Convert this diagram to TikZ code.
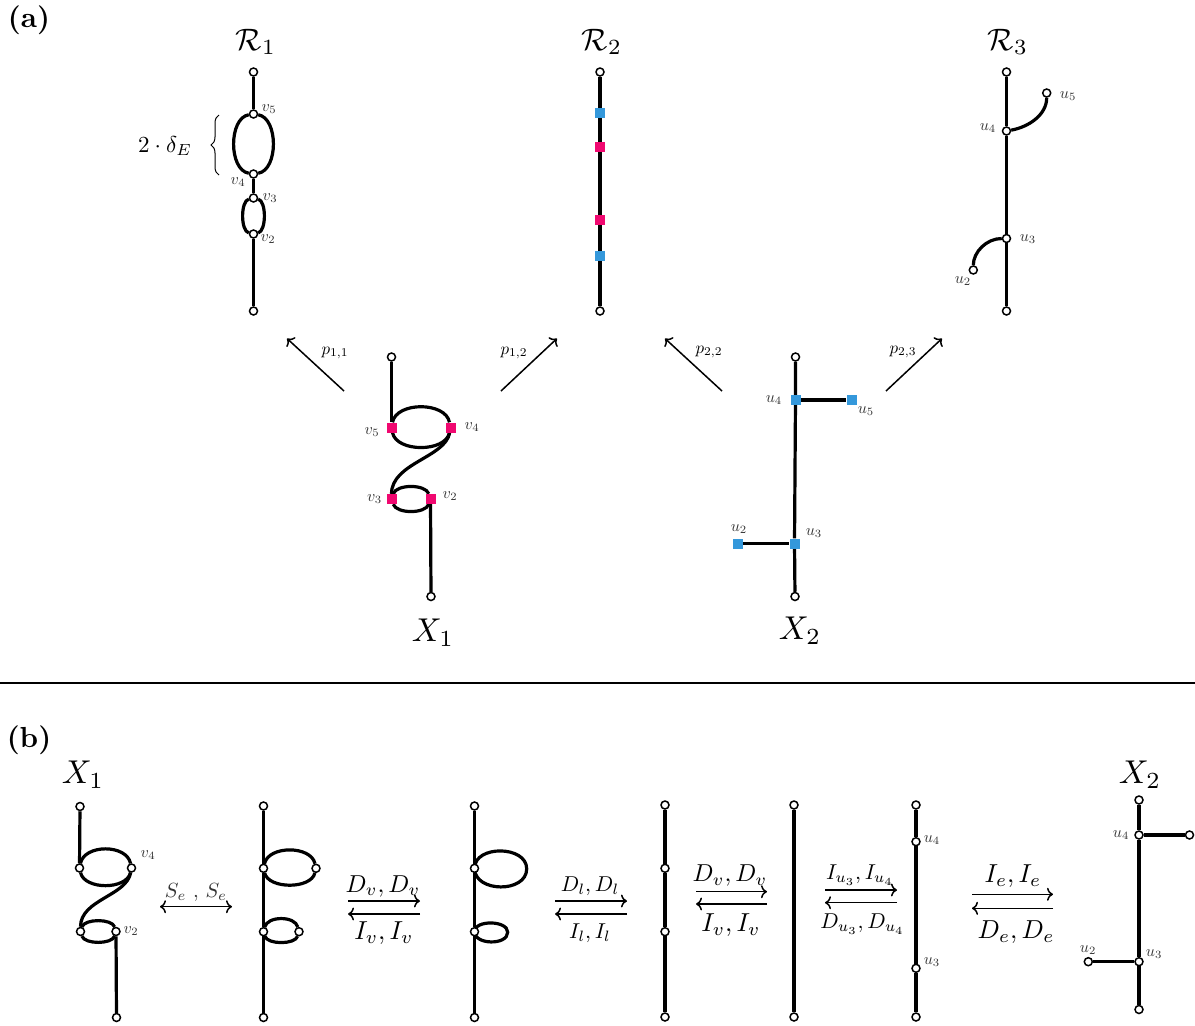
\documentclass[tikz,border=0pt]{standalone}
\usepackage{amsmath}
\usetikzlibrary{arrows.meta,decorations.pathreplacing}
\definecolor{mpink}{RGB}{240,8,112}
\definecolor{mblue}{RGB}{52,152,219}
\pgfdeclarelayer{bg}
\pgfsetlayers{bg,main}
\begin{document}
\begin{tikzpicture}[x=1pt,y=-1pt,
  edge/.style={line width=3.2pt},
  dot/.style={circle,draw,fill=white,line width=1.5pt,inner sep=0pt,minimum size=8pt},
  psq/.style={rectangle,fill=mpink,inner sep=0pt,minimum size=10pt},
  bsq/.style={rectangle,fill=mblue,inner sep=0pt,minimum size=10pt},
  lbl/.style={scale=1.6,text=black!80,inner sep=0pt},
  plbl/.style={scale=1.7,inner sep=0pt},
  big/.style={scale=3.3,inner sep=0pt},
  rlbl/.style={scale=3.1,inner sep=0pt},
  panel/.style={font=\bfseries,scale=2.9,inner sep=0pt},
  biglab/.style={scale=2.6,inner sep=0pt},
  dlab/.style={scale=2.45,inner sep=0pt},
  midlab/.style={scale=2.15,inner sep=0pt},
  arr/.style={line width=1.5pt,-{To[length=6pt,width=13pt]}},
  darr/.style={line width=1.5pt,{To[length=6pt,width=13pt]}-{To[length=6pt,width=13pt]}}]
\useasboundingbox (0,0) rectangle (1195,1026);

% ---------------- panel (a) ----------------
\node[panel] (pa) at (29,20) {(a)};

% R1
\node[rlbl] (tR1) at (256,42) {$\mathcal{R}_1$};
\node[dot] (r1t) at (253.5,72) {};
\node[dot] (r1v5) at (253.5,114) {};
\node[dot] (r1v4) at (253.5,174) {};
\node[dot] (r1v3) at (253.5,198) {};
\node[dot] (r1v2) at (253.5,234) {};
\node[dot] (r1b) at (253.5,311) {};
\node[lbl] at (269,109) {$v_5$};
\node[lbl] at (238,182) {$v_4$};
\node[lbl] at (270,198) {$v_3$};
\node[lbl] at (268,239) {$v_2$};
\begin{pgfonlayer}{bg}
\draw[edge] (r1t) -- (r1v5);
\draw[edge] (r1v5) .. controls +(-25,4) and +(-25,-4) .. (r1v4);
\draw[edge] (r1v5) .. controls +(25,4) and +(25,-4) .. (r1v4);
\draw[edge] (r1v4) -- (r1v3);
\draw[edge] (r1v3) .. controls +(-13,3) and +(-13,-3) .. (r1v2);
\draw[edge] (r1v3) .. controls +(13,3) and +(13,-3) .. (r1v2);
\draw[edge] (r1v2) -- (r1b);
\end{pgfonlayer}
\coordinate (brA) at (219,175);
\coordinate (brB) at (219,115);
\draw[line width=1pt,decorate,decoration={brace,amplitude=8pt}] (brA) -- (brB);
\node[scale=2.3,inner sep=0pt] (dE) at (165,146) {$2\cdot\delta_E$};

% R2
\node[rlbl] (tR2) at (602,42) {$\mathcal{R}_2$};
\node[dot] (r2t) at (600,72) {};
\node[bsq] (r2a) at (600,113) {};
\node[psq] (r2b) at (600,147) {};
\node[psq] (r2c) at (600,220) {};
\node[bsq] (r2d) at (600,256) {};
\node[dot] (r2e) at (600,311) {};
\begin{pgfonlayer}{bg}
\draw[edge] (r2t) -- (r2a) -- (r2b) -- (r2c) -- (r2d) -- (r2e);
\end{pgfonlayer}

% R3
\node[rlbl] (tR3) at (1008,42) {$\mathcal{R}_3$};
\node[dot] (r3t) at (1006.5,72) {};
\node[dot] (r3u4) at (1006.5,131) {};
\node[dot] (r3u5) at (1046.7,93) {};
\node[dot] (r3u3) at (1006.5,238.5) {};
\node[dot] (r3u2) at (973.3,270) {};
\node[dot] (r3b) at (1006.5,311) {};
\node[lbl] at (988,128) {$u_4$};
\node[lbl] at (1068,96) {$u_5$};
\node[lbl] at (1028,239) {$u_3$};
\node[lbl] at (963,281) {$u_2$};
\begin{pgfonlayer}{bg}
\draw[edge] (r3t) -- (r3u4) -- (r3u3) -- (r3b);
\draw[edge] (r3u4) .. controls +(22,-4) and +(0,22) .. (r3u5);
\draw[edge] (r3u3) .. controls +(-20,0) and +(0,-18) .. (r3u2);
\end{pgfonlayer}

% projection arrows
\coordinate (p11s) at (344,391); \coordinate (p11e) at (287,338.5);
\coordinate (p12s) at (501,391); \coordinate (p12e) at (557,338.5);
\coordinate (p22s) at (722,391); \coordinate (p22e) at (665,338.5);
\coordinate (p23s) at (886,391); \coordinate (p23e) at (942,338.5);
\draw[arr] (p11s) -- (p11e);
\draw[arr] (p12s) -- (p12e);
\draw[arr] (p22s) -- (p22e);
\draw[arr] (p23s) -- (p23e);
\node[plbl] at (335,353) {$p_{1,1}$};
\node[plbl] at (514,353) {$p_{1,2}$};
\node[plbl] at (709,352) {$p_{2,2}$};
\node[plbl] at (903,352) {$p_{2,3}$};

% X1 (top)
\node[dot] (x1t) at (391.5,357) {};
\node[psq] (x1v5) at (391.5,427.5) {};
\node[psq] (x1v4) at (450.5,427.5) {};
\node[psq] (x1v3) at (391.5,499) {};
\node[psq] (x1v2) at (430.5,499) {};
\node[dot] (x1b) at (431,596.5) {};
\node[lbl] at (372,432) {$v_5$};
\node[lbl] at (472,427) {$v_4$};
\node[lbl] at (374.5,499) {$v_3$};
\node[lbl] at (450,496) {$v_2$};
\node[big] (tX1) at (433,633) {$X_1$};
\begin{pgfonlayer}{bg}
\draw[edge] (x1t) -- (x1v5);
\draw[edge] (x1v5) .. controls +(5,-26) and +(-5,-26) .. (x1v4);
\draw[edge] (x1v5) .. controls +(5,25) and +(-5,25) .. (x1v4);
\draw[edge] (x1v4) .. controls +(-5,30) and +(0,-36) .. (x1v3);
\draw[edge] (x1v3) .. controls +(5,-15) and +(-5,-15) .. (x1v2);
\draw[edge] (x1v3) .. controls +(5,15) and +(-5,15) .. (x1v2);
\draw[edge] (x1v2) -- (x1b);
\end{pgfonlayer}

% X2 (top)
\node[dot] (x2t) at (795.5,357) {};
\node[bsq] (x2u4) at (795.5,400) {};
\node[bsq] (x2u5) at (851.5,400) {};
\node[bsq] (x2u3) at (794.5,543.5) {};
\node[bsq] (x2u2) at (738,543.5) {};
\node[dot] (x2b) at (795,596.5) {};
\node[lbl] at (774,400) {$u_4$};
\node[lbl] at (866,411) {$u_5$};
\node[lbl] at (739,529) {$u_2$};
\node[lbl] at (814,533) {$u_3$};
\node[big] (tX2) at (800,631) {$X_2$};
\begin{pgfonlayer}{bg}
\draw[edge] (x2t) -- (x2u4) -- (x2u3) -- (x2b);
\draw[edge] (x2u4) -- (x2u5);
\draw[edge] (x2u2) -- (x2u3);
\end{pgfonlayer}

% separator
\coordinate (sepL) at (0,683);
\coordinate (sepR) at (1195,683);
\draw[line width=1.1pt] (sepL) -- (sepR);

% ---------------- panel (b) ----------------
\node[panel] (pb) at (29,740) {(b)};

% graph 1 (X1)
\node[big] (bX1) at (83,775) {$X_1$};
\node[dot] (b1t) at (80,806.5) {};
\node[dot] (b1a) at (79.5,868) {};
\node[dot] (b1v4) at (131.5,868) {};
\node[dot] (b1c) at (80.5,931.5) {};
\node[dot] (b1v2) at (116,931.5) {};
\node[dot] (b1b) at (116.5,1017.5) {};
\node[lbl] at (148,855) {$v_4$};
\node[lbl] at (131,931) {$v_2$};
\begin{pgfonlayer}{bg}
\draw[edge] (b1t) -- (b1a);
\draw[edge] (b1a) .. controls +(5,-24) and +(-5,-24) .. (b1v4);
\draw[edge] (b1a) .. controls +(5,22) and +(-5,22) .. (b1v4);
\draw[edge] (b1v4) .. controls +(-5,28) and +(0,-32) .. (b1c);
\draw[edge] (b1c) .. controls +(4,-13) and +(-4,-13) .. (b1v2);
\draw[edge] (b1c) .. controls +(4,13) and +(-4,13) .. (b1v2);
\draw[edge] (b1v2) -- (b1b);
\end{pgfonlayer}

% S_e arrow
\coordinate (se1) at (160,906.7); \coordinate (se2) at (232,906.7);
\draw[darr] (se1) -- (se2);
\node[scale=2.05,text=black!80,inner sep=0pt] at (196,892) {$S_e$ , $S_e$};

% graph 2
\node[dot] (b2t) at (263.5,806) {};
\node[dot] (b2a) at (263.5,868.3) {};
\node[dot] (b2ar) at (316,868.3) {};
\node[dot] (b2c) at (263.5,931.7) {};
\node[dot] (b2cr) at (299,931.7) {};
\node[dot] (b2b) at (263.5,1017.5) {};
\begin{pgfonlayer}{bg}
\draw[edge] (b2t) -- (b2a) -- (b2c) -- (b2b);
\draw[edge] (b2a) .. controls +(5,-23) and +(-5,-23) .. (b2ar);
\draw[edge] (b2a) .. controls +(5,21) and +(-5,21) .. (b2ar);
\draw[edge] (b2c) .. controls +(4,-16) and +(-4,-16) .. (b2cr);
\draw[edge] (b2c) .. controls +(4,13) and +(-4,13) .. (b2cr);
\end{pgfonlayer}

% D_v / I_v arrows (1)
\coordinate (dv1a) at (348,901); \coordinate (dv1b) at (420,901);
\coordinate (iv1a) at (420,914); \coordinate (iv1b) at (348,914);
\draw[arr] (dv1a) -- (dv1b);
\draw[arr] (iv1a) -- (iv1b);
\node[dlab] at (383,886) {$D_v, D_v$};
\node[biglab] at (384,933) {$I_v, I_v$};

% graph 3
\node[dot] (b3t) at (474.5,806) {};
\node[dot] (b3a) at (474.5,868.3) {};
\node[dot] (b3c) at (474.5,931.7) {};
\node[dot] (b3b) at (474.5,1017.5) {};
\coordinate (b3ar) at (526.7,868.8);
\coordinate (b3cr) at (507.7,932.2);
\begin{pgfonlayer}{bg}
\draw[edge] (b3t) -- (b3a) -- (b3c) -- (b3b);
\draw[edge] (b3a.center) .. controls +(0,-23.5) and +(0,-23.5) .. (b3ar) .. controls +(0,24.5) and +(0,24.5) .. (b3a.center);
\draw[edge] (b3c.center) .. controls +(0,-12) and +(0,-12) .. (b3cr) .. controls +(0,13.3) and +(0,13.3) .. (b3c.center);
\end{pgfonlayer}

% D_l / I_l arrows
\coordinate (dla) at (555,901); \coordinate (dlb) at (627,901);
\coordinate (ila) at (627,914); \coordinate (ilb) at (555,914);
\draw[arr] (dla) -- (dlb);
\draw[arr] (ila) -- (ilb);
\node[midlab] at (590,886) {$D_l, D_l$};
\node[midlab] at (590,933) {$I_l, I_l$};

% graph 4
\node[dot] (b4t) at (665,805) {};
\node[dot] (b4a) at (665,868.3) {};
\node[dot] (b4c) at (665,931.7) {};
\node[dot] (b4b) at (665,1017) {};
\begin{pgfonlayer}{bg}
\draw[edge] (b4t) -- (b4a) -- (b4c) -- (b4b);
\end{pgfonlayer}

% D_v / I_v arrows (2)
\coordinate (dv2a) at (696,891.7); \coordinate (dv2b) at (767,891.7);
\coordinate (iv2a) at (767,904); \coordinate (iv2b) at (696,904);
\draw[arr] (dv2a) -- (dv2b);
\draw[arr] (iv2a) -- (iv2b);
\node[dlab] at (730,876) {$D_v, D_v$};
\node[biglab] at (731,925) {$I_v, I_v$};

% graph 5
\node[dot] (b5t) at (794,805) {};
\node[dot] (b5b) at (794,1017) {};
\begin{pgfonlayer}{bg}
\draw[edge] (b5t) -- (b5b);
\end{pgfonlayer}

% I_u / D_u arrows
\coordinate (iua) at (825,890); \coordinate (iub) at (897,890);
\coordinate (dua) at (897,902.7); \coordinate (dub) at (825,902.7);
\draw[arr] (iua) -- (iub);
\draw[arr] (dua) -- (dub);
\node[midlab] at (860,875) {$I_{u_3}, I_{u_4}$};
\node[midlab] at (862.5,924) {$D_{u_3}, D_{u_4}$};

% graph 6
\node[dot] (b6t) at (916,805) {};
\node[dot] (b6u4) at (916,841.7) {};
\node[dot] (b6u3) at (916,968.3) {};
\node[dot] (b6b) at (916,1017) {};
\node[lbl] at (932,840) {$u_4$};
\node[lbl] at (932,962) {$u_3$};
\begin{pgfonlayer}{bg}
\draw[edge] (b6t) -- (b6u4) -- (b6u3) -- (b6b);
\end{pgfonlayer}

% I_e / D_e arrows
\coordinate (iea) at (972,894.3); \coordinate (ieb) at (1053,894.3);
\coordinate (dea) at (1053,908.3); \coordinate (deb) at (972,908.3);
\draw[arr] (iea) -- (ieb);
\draw[arr] (dea) -- (deb);
\node[biglab] at (1013,876) {$I_e, I_e$};
\node[biglab] at (1016,932) {$D_e, D_e$};

% graph 7 (X2)
\node[big] (bX2) at (1140,775) {$X_2$};
\node[dot] (b7t) at (1139,800) {};
\node[dot] (b7u4) at (1139,835) {};
\node[dot] (b7u5) at (1189.5,835) {};
\node[dot] (b7u3) at (1139,961.7) {};
\node[dot] (b7u2) at (1088.3,961.7) {};
\node[dot] (b7b) at (1139,1009.5) {};
\node[lbl] at (1121,835) {$u_4$};
\node[lbl] at (1088,950) {$u_2$};
\node[lbl] at (1154,954) {$u_3$};
\begin{pgfonlayer}{bg}
\draw[edge] (b7t) -- (b7u4) -- (b7u3) -- (b7b);
\draw[edge] (b7u4) -- (b7u5);
\draw[edge] (b7u2) -- (b7u3);
\end{pgfonlayer}
\end{tikzpicture}
\end{document}
